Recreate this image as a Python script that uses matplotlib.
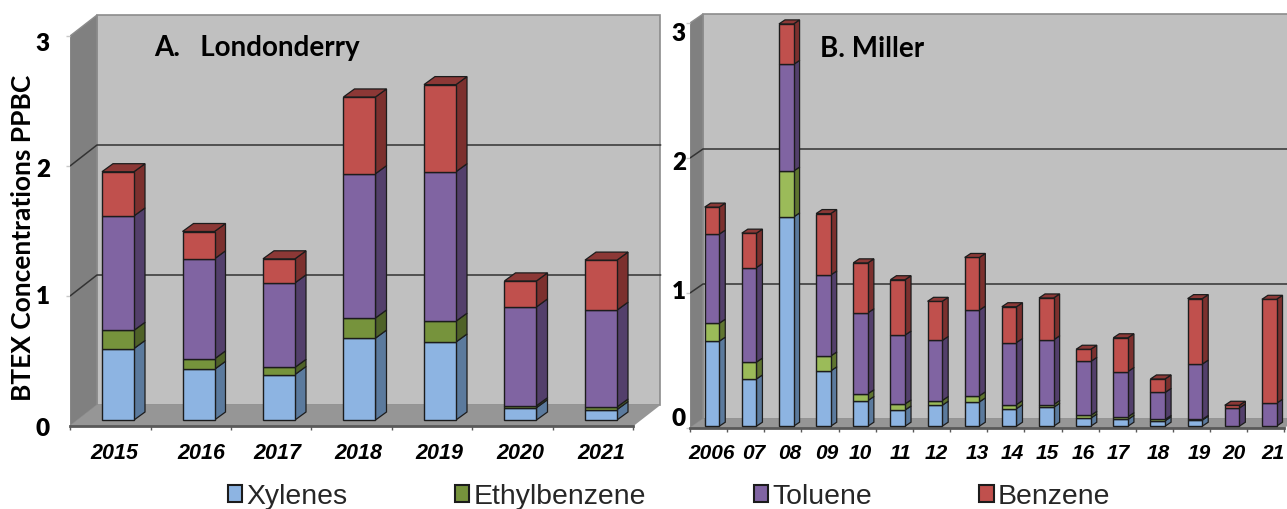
import matplotlib
matplotlib.use("Agg")
import matplotlib.pyplot as plt
from matplotlib.patches import Polygon, Patch

# Data (ppbC)
years_a = ["2015", "2016", "2017", "2018", "2019", "2020", "2021"]
xylenes_a = [0.55, 0.39, 0.35, 0.63, 0.60, 0.095, 0.08]
ethylbenzene_a = [0.14, 0.08, 0.055, 0.155, 0.16, 0.015, 0.02]
toluene_a = [0.88, 0.77, 0.65, 1.11, 1.15, 0.76, 0.745]
benzene_a = [0.34, 0.21, 0.185, 0.59, 0.67, 0.20, 0.385]

years_b = ["2006", "07", "08", "09", "10", "11", "12", "13",
           "14", "15", "16", "17", "18", "19", "20", "21"]
xylenes_b = [0.63, 0.35, 1.55, 0.41, 0.19, 0.12, 0.155, 0.18,
             0.13, 0.14, 0.06, 0.05, 0.04, 0.045, 0, 0]
ethylbenzene_b = [0.133, 0.125, 0.34, 0.11, 0.05, 0.045, 0.035, 0.045,
                  0.03, 0.02, 0.02, 0.02, 0.01, 0.005, 0, 0]
toluene_b = [0.66, 0.70, 0.79, 0.60, 0.60, 0.51, 0.445, 0.635,
             0.46, 0.48, 0.40, 0.335, 0.20, 0.41, 0.135, 0.17]
benzene_b = [0.20, 0.255, 0.30, 0.455, 0.37, 0.41, 0.29, 0.39,
             0.265, 0.31, 0.09, 0.25, 0.10, 0.485, 0.02, 0.77]

names = ["Xylenes", "Ethylbenzene", "Toluene", "Benzene"]

# Colours: front, side, top
BLUE = ("#8DB4E2", "#5B7A9D", "#5B7A9D")
GREEN_A = ("#76933C", "#4F6228", "#4F6228")
GREEN_B = ("#9BBB59", "#5F7530", "#5F7530")
PURPLE = ("#8064A2", "#533F6B", "#533F6B")
RED = ("#C0504D", "#7C302E", "#8C3836")

W, H = 1287, 510
DPI = 100
plt.rcParams["font.family"] = ["Liberation Sans", "DejaVu Sans"]

fig = plt.figure(figsize=(W / DPI, H / DPI), dpi=DPI)


def draw_panel(box, n_cat, px_y, wall, bar, series, colors, labels_px, ylabels_px, pad_y):
    left, right, bottom, top = box
    cat_px = wall["cat_px"]
    ax = fig.add_axes([left / W, 1 - bottom / H, (right - left) / W, (bottom - top) / H])
    ax.set_xlim(0, (right - left) / cat_px)
    ax.set_ylim(0, (bottom - top) / px_y)
    ax.patch.set_visible(False)
    for s in ax.spines.values():
        s.set_visible(False)

    dx = wall["dx"] / cat_px
    dy = wall["dy"] / px_y
    end = wall["front_end"] / cat_px
    y_top = 3

    # walls and floor
    ax.add_patch(Polygon([(dx, dy), (end + dx, dy), (end + dx, y_top + dy), (dx, y_top + dy)],
                         fc="#C0C0C0", ec="#8C8C8C", lw=1.2, zorder=1))
    ax.add_patch(Polygon([(0, 0), (dx, dy), (dx, y_top + dy), (0, y_top)],
                         fc="#808080", ec="#8C8C8C", lw=1, zorder=1))
    ax.add_patch(Polygon([(0, 0), (end, 0), (end + dx, dy), (dx, dy)],
                         fc="#969696", ec="none", zorder=2))

    # gridlines run along the side wall and the back wall
    for v in [1, 2]:
        ax.plot([0, dx, end + dx], [v, v + dy, v + dy], color="#333333", lw=1.1, zorder=2)
    ax.plot([0, end], [0, 0], color="#595959", lw=2, zorder=3, clip_on=False)

    # stacked bars in oblique view
    bw = bar["width"] / cat_px
    bdx = bar["dx"] / cat_px
    bdy = bar["dy"] / px_y
    off_x = bar["off_x"] / cat_px
    base = bar["off_y"] / px_y
    edge = "#1C1C1C"
    for i in range(n_cat):
        x0 = i + 0.5 + off_x - bw / 2
        x1 = x0 + bw
        y0 = base
        last = None
        for vals, col in zip(series, colors):
            v = vals[i]
            if v <= 0:
                continue
            y1 = y0 + v
            ax.add_patch(Polygon([(x1, y0), (x1 + bdx, y0 + bdy), (x1 + bdx, y1 + bdy), (x1, y1)],
                                 fc=col[1], ec=edge, lw=0.9, zorder=4))
            ax.add_patch(Polygon([(x0, y0), (x1, y0), (x1, y1), (x0, y1)],
                                 fc=col[0], ec=edge, lw=1.0, zorder=5))
            y0 = y1
            last = col
        ax.add_patch(Polygon([(x0, y0), (x1, y0), (x1 + bdx, y0 + bdy), (x0 + bdx, y0 + bdy)],
                             fc=last[2], ec=edge, lw=0.9, zorder=5))

    # x axis: ticks between categories, labels hand placed as in the original
    ax.set_xticks(range(n_cat + 1))
    ax.set_xticklabels([])
    ax.tick_params(axis="x", which="major", length=3, color="#595959", width=1)
    ax.set_xticks([(p - left) / cat_px for p in labels_px], minor=True)
    ax.set_xticklabels(wall["labels"], minor=True, fontweight="bold", fontstyle="italic",
                       fontsize=wall["label_size"])
    ax.tick_params(axis="x", which="minor", length=0, pad=wall["label_pad"])

    # y axis labels are not quite on the value positions either
    ax.set_yticks([(bottom - p) / px_y for p in ylabels_px])
    ax.set_yticklabels(["3", "2", "1", "0"], family="Lato", fontweight="heavy", fontsize=17.5)
    ax.tick_params(axis="y", which="major", length=0, pad=pad_y)
    ax.set_yticks([0, 1, 2, 3], minor=True)
    ax.tick_params(axis="y", which="minor", length=3, color="#C8C8C8", width=1)
    return ax


series_a = [xylenes_a, ethylbenzene_a, toluene_a, benzene_a]
series_b = [xylenes_b, ethylbenzene_b, toluene_b, benzene_b]

ax_a = draw_panel(
    (70, 662, 427, 15), 7, 130.0,
    dict(cat_px=80.5, dx=27, dy=21, front_end=563.5, labels=years_a, label_size=15.5, label_pad=11.5),
    dict(width=32, dx=11, dy=8, off_x=7.75, off_y=6),
    series_a, [BLUE, GREEN_A, PURPLE, RED],
    [114, 201, 277, 358, 439, 520, 601], [42, 168, 295, 427], 14.5)

ax_b = draw_panel(
    (690, 1287, 429, 14), 16, 135.0,
    dict(cat_px=37.15, dx=13, dy=9, front_end=594.4, labels=years_b, label_size=15, label_pad=10.5),
    dict(width=14.6, dx=6, dy=4, off_x=3.4, off_y=1.8),
    series_b, [BLUE, GREEN_B, PURPLE, RED],
    [712, 754, 790, 827, 860, 901, 936, 977, 1012, 1047, 1083, 1118, 1158, 1199, 1234, 1273],
    [32, 161, 290, 417], 3)

# panel titles and the shared y label
fig.text(154 / W, 1 - 48 / H, "A.   Londonderry", family="Lato", fontweight="bold",
         fontsize=20, va="center", ha="left")
fig.text(820 / W, 1 - 49 / H, "B. Miller", family="Lato", fontweight="bold",
         fontsize=20, va="center", ha="left")
fig.text(23 / W, 1 - 238 / H, "BTEX Concentrations PPBC", family="Lato", fontweight="bold",
         fontsize=19, rotation=90, va="center", ha="center")

handles = [Patch(fc=c[0], ec="#1C1C1C", lw=1.5) for c in [BLUE, GREEN_A, PURPLE, RED]]
fig.legend(handles, names, ncols=4, frameon=False, fontsize=20.4,
           handlelength=0.5, handleheight=0.5, handletextpad=0.15, columnspacing=3.8,
           loc="center", bbox_to_anchor=(669 / W, 1 - 497.5 / H), labelcolor="#262626",
           borderpad=0)

fig.savefig("out.png", dpi=DPI)
